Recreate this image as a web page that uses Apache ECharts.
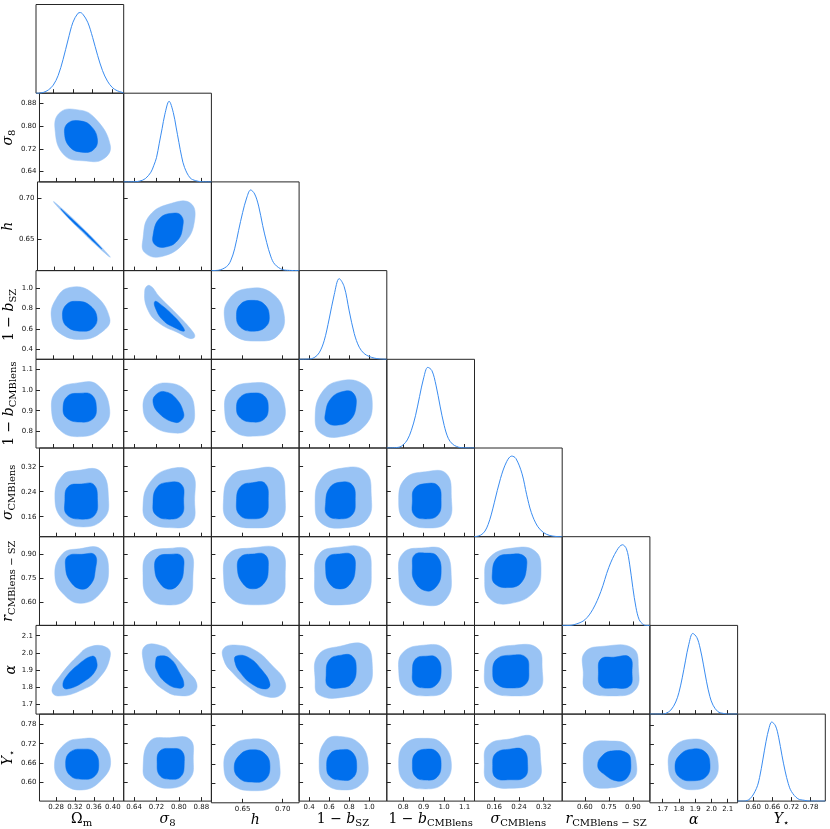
<!DOCTYPE html>
<html>
<head>
<meta charset="UTF-8">
<title>Triangle plot</title>
<script src="https://cdn.jsdelivr.net/npm/echarts@6/dist/echarts.min.js"></script>
<style>
html, body { margin: 0; padding: 0; background: #fff; }
#chart { width: 830px; height: 829px; }
</style>
</head>
<body>
<div id="chart"></div>
<script>
// parameters: Om, s8, h, 1-bSZ, 1-bCMB, sigmaCMB, r, alpha, Ystar
const paramNames = ['{u|Ω}{s|m}', '{i|σ}{s|8}', '{i|h}', '{u|1 − }{i|b}{s|SZ}', '{u|1 − }{i|b}{s|CMBlens}',
  '{i|σ}{s|CMBlens}', '{i|r}{s|CMBlens − SZ}', '{i|α}', '{i|Y}{s|⋆}'];
const xRanges = [[0.245, 0.423], [0.603, 0.916], [0.611, 0.7205], [0.30, 1.175], [0.72, 1.148],
  [0.096, 0.38], [0.458, 1.007], [1.621, 2.161], [0.551, 0.826]];
const yRanges = [[0.245, 0.423], [0.6035, 0.916], [0.6115, 0.72], [0.299, 1.173], [0.72, 1.148],
  [0.096, 0.38], [0.458, 1.007], [1.644, 2.16], [0.540, 0.813]];
const tickValues = [[0.28, 0.32, 0.36, 0.40], [0.64, 0.72, 0.80, 0.88], [0.65, 0.70], [0.4, 0.6, 0.8, 1.0],
  [0.8, 0.9, 1.0, 1.1], [0.16, 0.24, 0.32], [0.60, 0.75, 0.90], [1.7, 1.8, 1.9, 2.0, 2.1], [0.60, 0.66, 0.72, 0.78]];
const tickDecimals = [2, 2, 2, 1, 1, 2, 2, 1, 2];

// 1D marginals [value, relative density]
const d_Om = [[0.245,0],[0.25,0],[0.26,0.01],[0.27,0.04],[0.28,0.10],[0.29,0.22],[0.30,0.42],[0.31,0.66],[0.32,0.88],[0.33,0.99],[0.335,1.0],[0.34,0.98],[0.35,0.88],[0.36,0.69],[0.37,0.47],[0.38,0.28],[0.39,0.15],[0.40,0.07],[0.41,0.03],[0.42,0.01],[0.423,0]];
const d_s8 = [[0.603,0],[0.64,0.002],[0.66,0.01],[0.68,0.04],[0.70,0.12],[0.71,0.2],[0.72,0.3],[0.73,0.48],[0.74,0.66],[0.75,0.84],[0.765,1.0],[0.78,0.86],[0.79,0.68],[0.80,0.49],[0.81,0.31],[0.82,0.18],[0.84,0.05],[0.86,0.015],[0.88,0.003],[0.916,0]];
const d_h = [[0.611,0],[0.62,0.005],[0.63,0.05],[0.635,0.12],[0.64,0.27],[0.645,0.5],[0.65,0.72],[0.655,0.9],[0.66,1.0],[0.665,0.95],[0.67,0.8],[0.675,0.56],[0.68,0.35],[0.685,0.18],[0.69,0.08],[0.70,0.012],[0.71,0.002],[0.7205,0]];
const d_bSZ = [[0.30,0],[0.40,0.003],[0.45,0.02],[0.50,0.08],[0.55,0.23],[0.60,0.5],[0.65,0.8],[0.70,1.0],[0.75,0.9],[0.80,0.6],[0.85,0.32],[0.90,0.15],[0.95,0.07],[1.00,0.035],[1.05,0.015],[1.10,0.005],[1.175,0]];
const d_bCMB = [[0.72,0],[0.78,0.01],[0.80,0.04],[0.82,0.10],[0.84,0.22],[0.86,0.40],[0.88,0.64],[0.90,0.87],[0.92,1.0],[0.94,0.96],[0.96,0.78],[0.98,0.52],[1.00,0.28],[1.02,0.12],[1.04,0.05],[1.06,0.02],[1.08,0.005],[1.148,0]];
const d_sCMB = [[0.096,0],[0.11,0.01],[0.12,0.03],[0.13,0.07],[0.14,0.15],[0.15,0.27],[0.16,0.42],[0.18,0.72],[0.20,0.93],[0.2165,1.0],[0.23,0.97],[0.25,0.78],[0.265,0.52],[0.28,0.3],[0.30,0.13],[0.32,0.05],[0.34,0.015],[0.36,0.003],[0.38,0]];
const d_r = [[0.458,0],[0.50,0],[0.55,0.02],[0.60,0.07],[0.65,0.20],[0.70,0.42],[0.75,0.72],[0.80,0.93],[0.835,1.0],[0.86,0.95],[0.88,0.76],[0.90,0.47],[0.92,0.22],[0.94,0.07],[0.96,0.02],[0.98,0],[1.007,0]];
const d_alpha = [[1.621,0],[1.70,0],[1.72,0.01],[1.75,0.05],[1.78,0.15],[1.80,0.27],[1.82,0.45],[1.84,0.66],[1.86,0.86],[1.885,1.0],[1.91,0.95],[1.93,0.82],[1.95,0.62],[1.97,0.40],[1.99,0.22],[2.01,0.11],[2.04,0.03],[2.07,0.01],[2.10,0],[2.161,0]];
const d_Y = [[0.551,0],[0.57,0],[0.59,0.03],[0.61,0.16],[0.62,0.30],[0.63,0.52],[0.64,0.75],[0.65,0.93],[0.658,1.0],[0.67,0.95],[0.68,0.80],[0.69,0.58],[0.70,0.38],[0.71,0.22],[0.72,0.12],[0.74,0.03],[0.76,0.01],[0.78,0],[0.826,0]];

// 2D contours per row: for each column [95% outline, 68% outline] as [x, y] points
const c_s8 = [
  [[[0.2776,0.793],[0.289,0.849],[0.3236,0.858],[0.360,0.832],[0.3946,0.733],[0.380,0.684],[0.344,0.677],[0.2972,0.698]],
   [[0.2979,0.775],[0.3054,0.8106],[0.3297,0.8187],[0.354,0.80],[0.3676,0.7507],[0.3581,0.7154],[0.3338,0.7084],[0.3094,0.726]]]
];
const c_h = [
  [[[0.278,0.6959],[0.307,0.6812],[0.3366,0.6645],[0.366,0.6472],[0.3953,0.6279],[0.366,0.6426],[0.3366,0.6593],[0.307,0.6766]],
   [[0.293,0.6872],[0.314,0.6757],[0.3355,0.6638],[0.357,0.6513],[0.378,0.638],[0.357,0.649],[0.3355,0.6614],[0.314,0.6733]]],
  [[[0.672,0.6509],[0.6959,0.6791],[0.7742,0.6939],[0.8418,0.6939],[0.856,0.673],[0.8204,0.646],[0.7386,0.6287],[0.678,0.6336]],
   [[0.7076,0.6545],[0.7315,0.6754],[0.7848,0.6819],[0.8098,0.6779],[0.8144,0.6668],[0.7955,0.6484],[0.7493,0.6402],[0.7137,0.6435]]]
];
const c_bSZ = [
  [[[0.2763,0.7035],[0.2851,0.8894],[0.3135,1.0068],[0.3581,0.9579],[0.3946,0.7035],[0.3784,0.5665],[0.3378,0.4951],[0.2932,0.5567]],
   [[0.2987,0.7231],[0.3074,0.8405],[0.3297,0.8699],[0.354,0.8307],[0.3688,0.7133],[0.3601,0.6057],[0.3378,0.5763],[0.3094,0.6154]]],
  [[[0.6959,1.0264],[0.7315,0.9119],[0.7909,0.7495],[0.85,0.5695],[0.856,0.5176],[0.8382,0.5049],[0.8026,0.5538],[0.7315,0.6517],[0.6898,0.7818],[0.6781,0.9775]],
   [[0.7147,0.8699],[0.7315,0.8473],[0.7788,0.7329],[0.8144,0.6184],[0.8187,0.5763],[0.7909,0.6027],[0.7432,0.684],[0.7147,0.8141]]],
  [[[0.6274,0.7035],[0.6336,0.8992],[0.6572,0.9971],[0.687,0.9481],[0.7019,0.7329],[0.6944,0.5371],[0.6696,0.4784],[0.6386,0.5371]],
   [[0.6423,0.7231],[0.6473,0.8405],[0.6622,0.8797],[0.6771,0.8405],[0.6833,0.7231],[0.6783,0.6154],[0.6622,0.5763],[0.6473,0.6154]]]
];
const c_bCMB = [
  [[[0.2763,0.9129],[0.2891,1.0],[0.3297,1.0339],[0.3702,1.0242],[0.3946,0.9032],[0.3784,0.8162],[0.3378,0.775],[0.2932,0.8065]],
   [[0.2999,0.9129],[0.3094,0.971],[0.3338,0.984],[0.3581,0.9758],[0.3676,0.9129],[0.3601,0.8597],[0.3338,0.8452],[0.3074,0.8645]]],
  [[[0.672,0.9129],[0.6959,1.0],[0.7564,1.0339],[0.8311,0.9903],[0.856,0.8936],[0.8382,0.8162],[0.7849,0.792],[0.703,0.8307]],
   [[0.7076,0.9419],[0.7208,0.9806],[0.7493,0.9918],[0.7884,0.9613],[0.8169,0.8887],[0.8098,0.8549],[0.7849,0.8437],[0.7315,0.8839]]],
  [[[0.6274,0.9129],[0.6349,1.0],[0.6597,1.0339],[0.6882,1.0145],[0.7031,0.9129],[0.6944,0.8162],[0.6671,0.7775],[0.6373,0.8065]],
   [[0.6423,0.9129],[0.6473,0.9661],[0.6622,0.9855],[0.6771,0.971],[0.682,0.9129],[0.6771,0.8597],[0.6622,0.8452],[0.6473,0.8645]]],
  [[[0.46,0.865],[0.53,0.99],[0.72,1.045],[0.95,1.025],[1.03,0.94],[0.96,0.83],[0.72,0.775],[0.52,0.79]],
   [[0.56,0.88],[0.62,0.96],[0.76,0.995],[0.84,0.985],[0.87,0.93],[0.81,0.855],[0.67,0.83],[0.575,0.845]]]
];
const c_sCMB = [
  [[[0.2776,0.2271],[0.2932,0.2915],[0.3236,0.3076],[0.3743,0.3044],[0.3911,0.211],[0.3804,0.1531],[0.3378,0.1273],[0.2932,0.1531]],
   [[0.2987,0.211],[0.3054,0.2561],[0.3338,0.2648],[0.3601,0.2625],[0.3676,0.211],[0.3622,0.166],[0.3378,0.1521],[0.3033,0.166]]],
  [[[0.672,0.1949],[0.6959,0.269],[0.7671,0.3131],[0.8453,0.3012],[0.856,0.211],[0.8453,0.1402],[0.7671,0.1251],[0.6888,0.1466]],
   [[0.7076,0.2046],[0.7208,0.2529],[0.7599,0.2699],[0.8098,0.2625],[0.8169,0.211],[0.8098,0.166],[0.7671,0.1521],[0.7172,0.166]]],
  [[[0.6262,0.2175],[0.6349,0.2883],[0.6597,0.3108],[0.6944,0.3076],[0.7031,0.2175],[0.6969,0.1466],[0.6659,0.1241],[0.6324,0.1466]],
   [[0.6423,0.211],[0.6473,0.2561],[0.6622,0.269],[0.6783,0.2658],[0.682,0.211],[0.6783,0.166],[0.6622,0.1531],[0.646,0.166]]],
  [[[0.46,0.205],[0.52,0.282],[0.72,0.315],[0.96,0.305],[1.02,0.227],[0.98,0.153],[0.76,0.125],[0.52,0.14]],
   [[0.565,0.205],[0.60,0.25],[0.70,0.27],[0.83,0.262],[0.86,0.211],[0.83,0.166],[0.70,0.153],[0.58,0.166]]],
  [[[0.778,0.211],[0.81,0.282],[0.91,0.304],[1.01,0.298],[1.035,0.221],[1.02,0.147],[0.93,0.124],[0.81,0.147]],
   [[0.845,0.211],[0.855,0.25],[0.91,0.266],[0.97,0.259],[0.985,0.211],[0.97,0.166],[0.91,0.153],[0.853,0.166]]]
];
const c_r = [
  [[[0.2776,0.7642],[0.2932,0.8997],[0.3297,0.9323],[0.3743,0.9305],[0.3911,0.795],[0.3743,0.6595],[0.3338,0.5948],[0.2972,0.6471]],
   [[0.2999,0.8258],[0.3054,0.8874],[0.3338,0.8978],[0.3621,0.8935],[0.3627,0.795],[0.354,0.7149],[0.3338,0.6822],[0.3094,0.7334]]],
  [[[0.672,0.7642],[0.6888,0.8997],[0.7671,0.9348],[0.8382,0.9182],[0.85,0.7642],[0.8311,0.6225],[0.7493,0.5855],[0.6888,0.6348]],
   [[0.7137,0.8073],[0.7243,0.8812],[0.7671,0.8978],[0.8098,0.8874],[0.8169,0.8073],[0.8026,0.7211],[0.7671,0.6822],[0.7315,0.7211]]],
  [[[0.6262,0.7642],[0.6324,0.8997],[0.6597,0.9367],[0.6969,0.9243],[0.7031,0.7642],[0.6969,0.6287],[0.6659,0.5855],[0.6349,0.6287]],
   [[0.6435,0.8073],[0.6473,0.8812],[0.6622,0.8997],[0.6783,0.8935],[0.682,0.8073],[0.6771,0.7211],[0.6622,0.6841],[0.6498,0.7211]]],
  [[[0.455,0.764],[0.50,0.90],[0.68,0.94],[0.96,0.93],[1.02,0.795],[0.96,0.635],[0.72,0.585],[0.50,0.622]],
   [[0.565,0.807],[0.59,0.881],[0.70,0.90],[0.83,0.893],[0.86,0.807],[0.81,0.715],[0.70,0.684],[0.60,0.721]]],
  [[[0.778,0.783],[0.80,0.906],[0.89,0.937],[1.0,0.918],[1.035,0.746],[1.01,0.623],[0.93,0.58],[0.81,0.641]],
   [[0.845,0.826],[0.855,0.894],[0.905,0.906],[0.965,0.887],[0.985,0.783],[0.96,0.696],[0.91,0.672],[0.855,0.733]]],
  [[[0.129,0.7518],[0.1462,0.8812],[0.2271,0.9385],[0.2919,0.918],[0.3113,0.8135],[0.2919,0.6718],[0.211,0.5935],[0.1462,0.6225]],
   [[0.1536,0.7765],[0.1689,0.8751],[0.211,0.8978],[0.2563,0.8874],[0.265,0.8258],[0.2466,0.7211],[0.2045,0.6921],[0.1624,0.7149]]]
];
const c_alpha = [
  [[[0.2774,1.7842],[0.2896,1.7495],[0.3404,1.7871],[0.375,1.8595],[0.3953,1.9753],[0.3892,2.0303],[0.3547,2.036],[0.3276,1.977],[0.2936,1.8653]],
   [[0.2997,1.8074],[0.3079,1.79],[0.341,1.8305],[0.3662,1.9],[0.3669,1.9637],[0.3587,1.981],[0.3343,1.9405],[0.3058,1.8595]]],
  [[[0.6783,2.0389],[0.7427,2.0389],[0.7796,1.9868],[0.8276,1.9],[0.8634,1.823],[0.8512,1.7651],[0.8036,1.7512],[0.756,1.7744],[0.6962,1.8612],[0.6747,1.9388]],
   [[0.7259,1.981],[0.7678,1.9677],[0.8036,1.8809],[0.8179,1.8132],[0.8036,1.7941],[0.756,1.823],[0.7202,1.9],[0.7177,1.9579]]],
  [[[0.6266,2.0274],[0.6441,2.0447],[0.6654,2.0158],[0.6866,1.9289],[0.7029,1.8305],[0.6991,1.7611],[0.6816,1.7437],[0.6591,1.7958],[0.6366,1.8884],[0.6266,1.9579]],
   [[0.6416,1.981],[0.6566,1.9753],[0.6741,1.9],[0.6841,1.819],[0.6791,1.79],[0.6616,1.819],[0.6466,1.8884],[0.6404,1.9463]]],
  [[[0.46,1.842],[0.49,1.987],[0.71,2.039],[0.96,2.045],[1.03,1.929],[0.98,1.796],[0.76,1.744],[0.50,1.755]],
   [[0.57,1.871],[0.60,1.958],[0.72,1.987],[0.83,1.981],[0.87,1.912],[0.83,1.825],[0.71,1.796],[0.59,1.807]]],
  [[[0.778,1.90],[0.80,2.004],[0.90,2.045],[1.0,2.027],[1.035,1.912],[1.01,1.784],[0.92,1.75],[0.81,1.784]],
   [[0.845,1.888],[0.86,1.964],[0.91,1.981],[0.965,1.97],[0.985,1.888],[0.96,1.813],[0.905,1.796],[0.855,1.819]]],
  [[[0.128,1.888],[0.15,2.004],[0.225,2.045],[0.30,2.027],[0.315,1.912],[0.305,1.784],[0.225,1.75],[0.145,1.784]],
   [[0.155,1.888],[0.168,1.964],[0.215,1.987],[0.262,1.975],[0.272,1.90],[0.262,1.819],[0.215,1.796],[0.168,1.819]]],
  [[[0.59,1.888],[0.60,2.004],[0.72,2.039],[0.90,2.027],[0.935,1.912],[0.915,1.784],[0.78,1.75],[0.61,1.784]],
   [[0.685,1.888],[0.70,1.964],[0.78,1.975],[0.88,1.975],[0.895,1.888],[0.88,1.807],[0.78,1.796],[0.70,1.807]]]
];
const c_Y = [
  [[[0.2767,0.6569],[0.2977,0.7184],[0.3343,0.7359],[0.3709,0.7276],[0.3953,0.6661],[0.375,0.6047],[0.3343,0.5749],[0.2936,0.5986]],
   [[0.3003,0.6569],[0.3099,0.6938],[0.3384,0.703],[0.3608,0.6938],[0.3703,0.6539],[0.3608,0.617],[0.3343,0.6087],[0.3099,0.6201]]],
  [[[0.6722,0.6416],[0.6962,0.7276],[0.7678,0.739],[0.8394,0.7337],[0.8512,0.6723],[0.8394,0.6108],[0.7678,0.5801],[0.689,0.6047]],
   [[0.7223,0.6569],[0.732,0.6969],[0.775,0.7052],[0.8108,0.6969],[0.819,0.6569],[0.8072,0.617],[0.7678,0.6087],[0.732,0.6201]]],
  [[[0.6266,0.6477],[0.6341,0.7092],[0.6591,0.7359],[0.6866,0.7184],[0.6966,0.6477],[0.6904,0.5955],[0.6654,0.5771],[0.6366,0.5955]],
   [[0.6395,0.6477],[0.6466,0.6876],[0.6616,0.703],[0.6779,0.6907],[0.6841,0.6508],[0.6779,0.6108],[0.6616,0.6038],[0.6466,0.6139]]],
  [[[0.50,0.657],[0.56,0.728],[0.70,0.743],[0.91,0.718],[0.99,0.648],[0.93,0.596],[0.76,0.575],[0.56,0.596]],
   [[0.575,0.648],[0.608,0.688],[0.708,0.701],[0.828,0.694],[0.875,0.648],[0.828,0.611],[0.708,0.606],[0.608,0.617]]],
  [[[0.778,0.657],[0.81,0.72],[0.91,0.737],[0.99,0.72],[1.035,0.657],[1.0,0.598],[0.91,0.578],[0.81,0.598]],
   [[0.845,0.655],[0.86,0.69],[0.91,0.703],[0.965,0.694],[0.985,0.655],[0.965,0.615],[0.91,0.606],[0.86,0.617]]],
  [[[0.128,0.655],[0.14,0.715],[0.21,0.735],[0.29,0.74],[0.31,0.67],[0.30,0.605],[0.21,0.58],[0.14,0.60]],
   [[0.155,0.652],[0.165,0.69],[0.21,0.703],[0.255,0.70],[0.268,0.655],[0.258,0.615],[0.21,0.607],[0.165,0.613]]],
  [[[0.590,0.6622],[0.621,0.716],[0.757,0.7285],[0.872,0.7131],[0.924,0.6517],[0.893,0.6056],[0.715,0.5801],[0.621,0.6007]],
   [[0.680,0.6517],[0.713,0.6846],[0.778,0.6978],[0.864,0.6907],[0.887,0.6661],[0.870,0.617],[0.807,0.6026],[0.715,0.6263]]],
  [[[1.7344,0.6517],[1.7634,0.7092],[1.8784,0.7359],[1.991,0.7184],[2.0421,0.6569],[2.0034,0.6047],[1.8883,0.5801],[1.7757,0.6016]],
   [[1.7757,0.6508],[1.8065,0.6876],[1.8803,0.7052],[1.9603,0.6969],[1.991,0.6569],[1.9664,0.6201],[1.8864,0.6078],[1.8065,0.617]]]
];

const marginals = [d_Om, d_s8, d_h, d_bSZ, d_bCMB, d_sCMB, d_r, d_alpha, d_Y];
const contours = [null, c_s8, c_h, c_bSZ, c_bCMB, c_sCMB, c_r, c_alpha, c_Y];

const LIGHT = '#99c3f4';
const DARK = '#006fed';
const LINE = '#3a8cf0';
const FRAME = '#262626';
const LEFT = 36, TOP = 4.5, CELL_W = 87.7, CELL_H = 88.7;

const richStyles = {
  u: { fontFamily: 'DejaVu Serif', fontSize: 14, lineHeight: 18, color: '#000' },
  i: { fontFamily: 'DejaVu Serif', fontStyle: 'italic', fontSize: 14, lineHeight: 18, color: '#000' },
  s: { fontFamily: 'DejaVu Serif', fontSize: 10, lineHeight: 10, verticalAlign: 'bottom', color: '#000' }
};

function tickLabel(p) {
  return function (v) { return v.toFixed(tickDecimals[p]); };
}

function makeX(p, gi, labelled) {
  return {
    type: 'value', gridIndex: gi, min: xRanges[p][0], max: xRanges[p][1],
    splitLine: { show: false }, axisLine: { show: false },
    axisTick: { show: true, inside: true, length: 4, lineStyle: { color: FRAME, width: 1 }, customValues: tickValues[p] },
    axisLabel: { show: labelled, customValues: tickValues[p], margin: 3, fontFamily: 'DejaVu Sans', fontSize: 7, color: '#111', formatter: tickLabel(p) },
    name: labelled ? paramNames[p] : '', nameLocation: 'middle', nameGap: 7,
    nameTextStyle: { rich: richStyles }
  };
}

function makeY(p, gi, labelled) {
  return {
    type: 'value', gridIndex: gi, min: yRanges[p][0], max: yRanges[p][1],
    splitLine: { show: false }, axisLine: { show: false },
    axisTick: { show: true, inside: true, length: 4, lineStyle: { color: FRAME, width: 1 }, customValues: tickValues[p] },
    axisLabel: { show: labelled, customValues: tickValues[p], margin: 3, fontFamily: 'DejaVu Sans', fontSize: 7, color: '#111', formatter: tickLabel(p) },
    name: labelled ? paramNames[p] : '', nameLocation: 'middle', nameGap: 13,
    nameTextStyle: { rich: richStyles }
  };
}

function contourSeries(levels, gi) {
  return {
    type: 'custom', xAxisIndex: gi, yAxisIndex: gi, silent: true,
    data: [[0], [1]],
    renderItem: function (params, api) {
      const pts = levels[params.dataIndex].map(function (p) { return api.coord(p); });
      const c = params.dataIndex === 0 ? LIGHT : DARK;
      return { type: 'polygon', shape: { points: pts, smooth: 0.45 }, style: { fill: c, stroke: c, lineWidth: 0.5 } };
    }
  };
}

const grid = [], xAxis = [], yAxis = [], series = [];
let k = 0;
for (let i = 0; i < 9; i++) {
  for (let j = 0; j <= i; j++) {
    grid.push({
      left: LEFT + j * CELL_W, top: TOP + i * CELL_H, width: CELL_W, height: CELL_H,
      show: true, borderColor: FRAME, borderWidth: 1, backgroundColor: 'transparent'
    });
    xAxis.push(makeX(j, k, i === 8));
    if (i === j) {
      yAxis.push({ type: 'value', gridIndex: k, min: 0, max: 1.1, show: false });
      series.push({
        type: 'line', xAxisIndex: k, yAxisIndex: k, data: marginals[i], smooth: 0.35,
        symbol: 'none', silent: true, lineStyle: { color: LINE, width: 1 }
      });
    } else {
      yAxis.push(makeY(i, k, j === 0));
      series.push(contourSeries(contours[i][j], k));
    }
    k++;
  }
}

const chart = echarts.init(document.getElementById('chart'));
chart.setOption({
  animation: false,
  backgroundColor: '#fff',
  grid: grid,
  xAxis: xAxis,
  yAxis: yAxis,
  series: series
});
</script>
</body>
</html>
